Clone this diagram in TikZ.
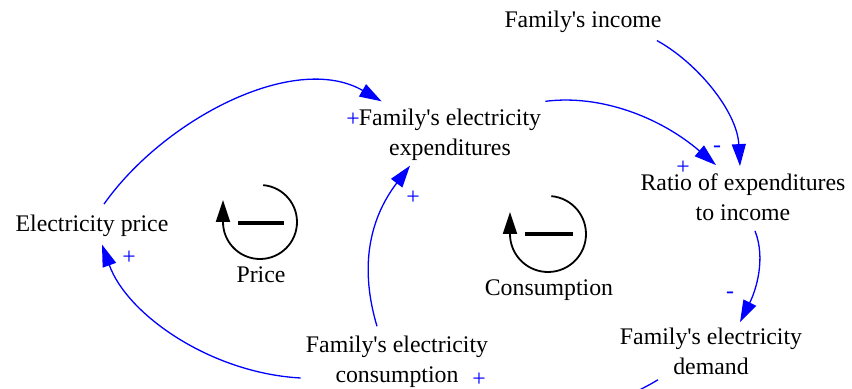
\documentclass[tikz,border=0pt]{standalone}
\usepackage{fontspec}
\setmainfont{Liberation Serif}
\usetikzlibrary{arrows.meta,calc}
\newcommand{\cldfont}{\fontsize{11.9pt}{15pt}\selectfont}
\newcommand{\apos}{\textquotesingle}
\tikzset{
  var/.style={align=center, inner sep=1.5pt, font=\cldfont},
  sgn/.style={inner sep=0pt, font=\cldfont, text=blue},
  lnk/.style={-{Triangle[length=11pt, width=7pt]}, blue, line width=0.65pt},
  lp/.style={-{Triangle[length=11pt, width=7pt]}, black, line width=0.9pt},
  dsh/.style={black, line width=1.6pt},
}

\begin{document}
\begin{tikzpicture}[x=0.5pt, y=-0.5pt]

\useasboundingbox (0,0) rectangle (852,389);
\clip (0,0) rectangle (852,389);

% Variables
\node[var, anchor=base] (inc) at (583,28) {Family\apos s income};
\node[var] (exp) at (450,134.5) {Family\apos s electricity\\expenditures};
\node[var] (ratio) at (743,197) {Ratio of expenditures\\to income};
\node[var, anchor=base] (price) at (92,232) {Electricity price};
\node[var] (dem) at (711,351) {Family\apos s electricity\\demand};
\node[var] (cons) at (397,361.5) {Family\apos s electricity\\consumption};

% Loop labels
\node[var, anchor=base] (plabel) at (261,283) {Price};
\node[var, anchor=base] (clabel) at (549,296) {Consumption};

\coordinate (ploop) at (260,222);
\coordinate (cloop) at (548,234);
\draw[lp] ($(ploop)+(85:18.5pt)$) arc[start angle=85, end angle=-180, radius=18.5pt] -- ++(0pt,11pt);
\draw[dsh] ($(ploop)+(-22,1)$) -- ($(ploop)+(24,1)$);
\draw[lp] ($(cloop)+(85:19pt)$) arc[start angle=85, end angle=-180, radius=19pt] -- ++(0pt,11pt);
\draw[dsh] ($(cloop)+(-23,0)$) -- ($(cloop)+(25,0)$);

% Links
\draw[lnk] ($(price.north)+(12,-8)$) .. controls +(60,-85) and +(-87,-50) .. ($(exp.north west)+(26,-4)$);
\draw[lnk] ($(cons.west)+(-2,16.5)$) .. controls +(-90,-5) and +(25,70) .. ($(price.south)+(10,4)$);
\draw[lnk] ($(cons.north)+(-20,-6)$) .. controls +(-17,-57) and +(-42,55) .. ($(exp.south)+(-40,2)$);
\draw[lnk] ($(exp.north east)+(1,-4)$) .. controls +(55,-7) and +(-56,-48) .. ($(ratio.north)+(-27,-5)$);
\draw[lnk] ($(inc.south east)+(-8,4)$) .. controls +(40,22) and +(-3,-55) .. ($(ratio.north)+(-3,-4)$);
\draw[lnk] ($(ratio.south)+(12,7)$) .. controls +(11,28) and +(16,-32) .. ($(dem.north)+(29,-2)$);
\draw[lnk] ($(dem.south)+(-53,2)$) .. controls +(-60,36) and +(40,30) .. ($(cons.south east)+(0,3)$);

% Polarities
\node[sgn] (s1) at (353,120) {+};
\node[sgn] (s2) at (129,258) {+};
\node[sgn] (s3) at (413,198) {+};
\node[sgn] (s4) at (683,168) {+};
\node[sgn] (s5) at (717,149) {-};
\node[sgn] (s6) at (730,295) {-};
\node[sgn] (s7) at (479,380) {+};

\end{tikzpicture}
\end{document}
